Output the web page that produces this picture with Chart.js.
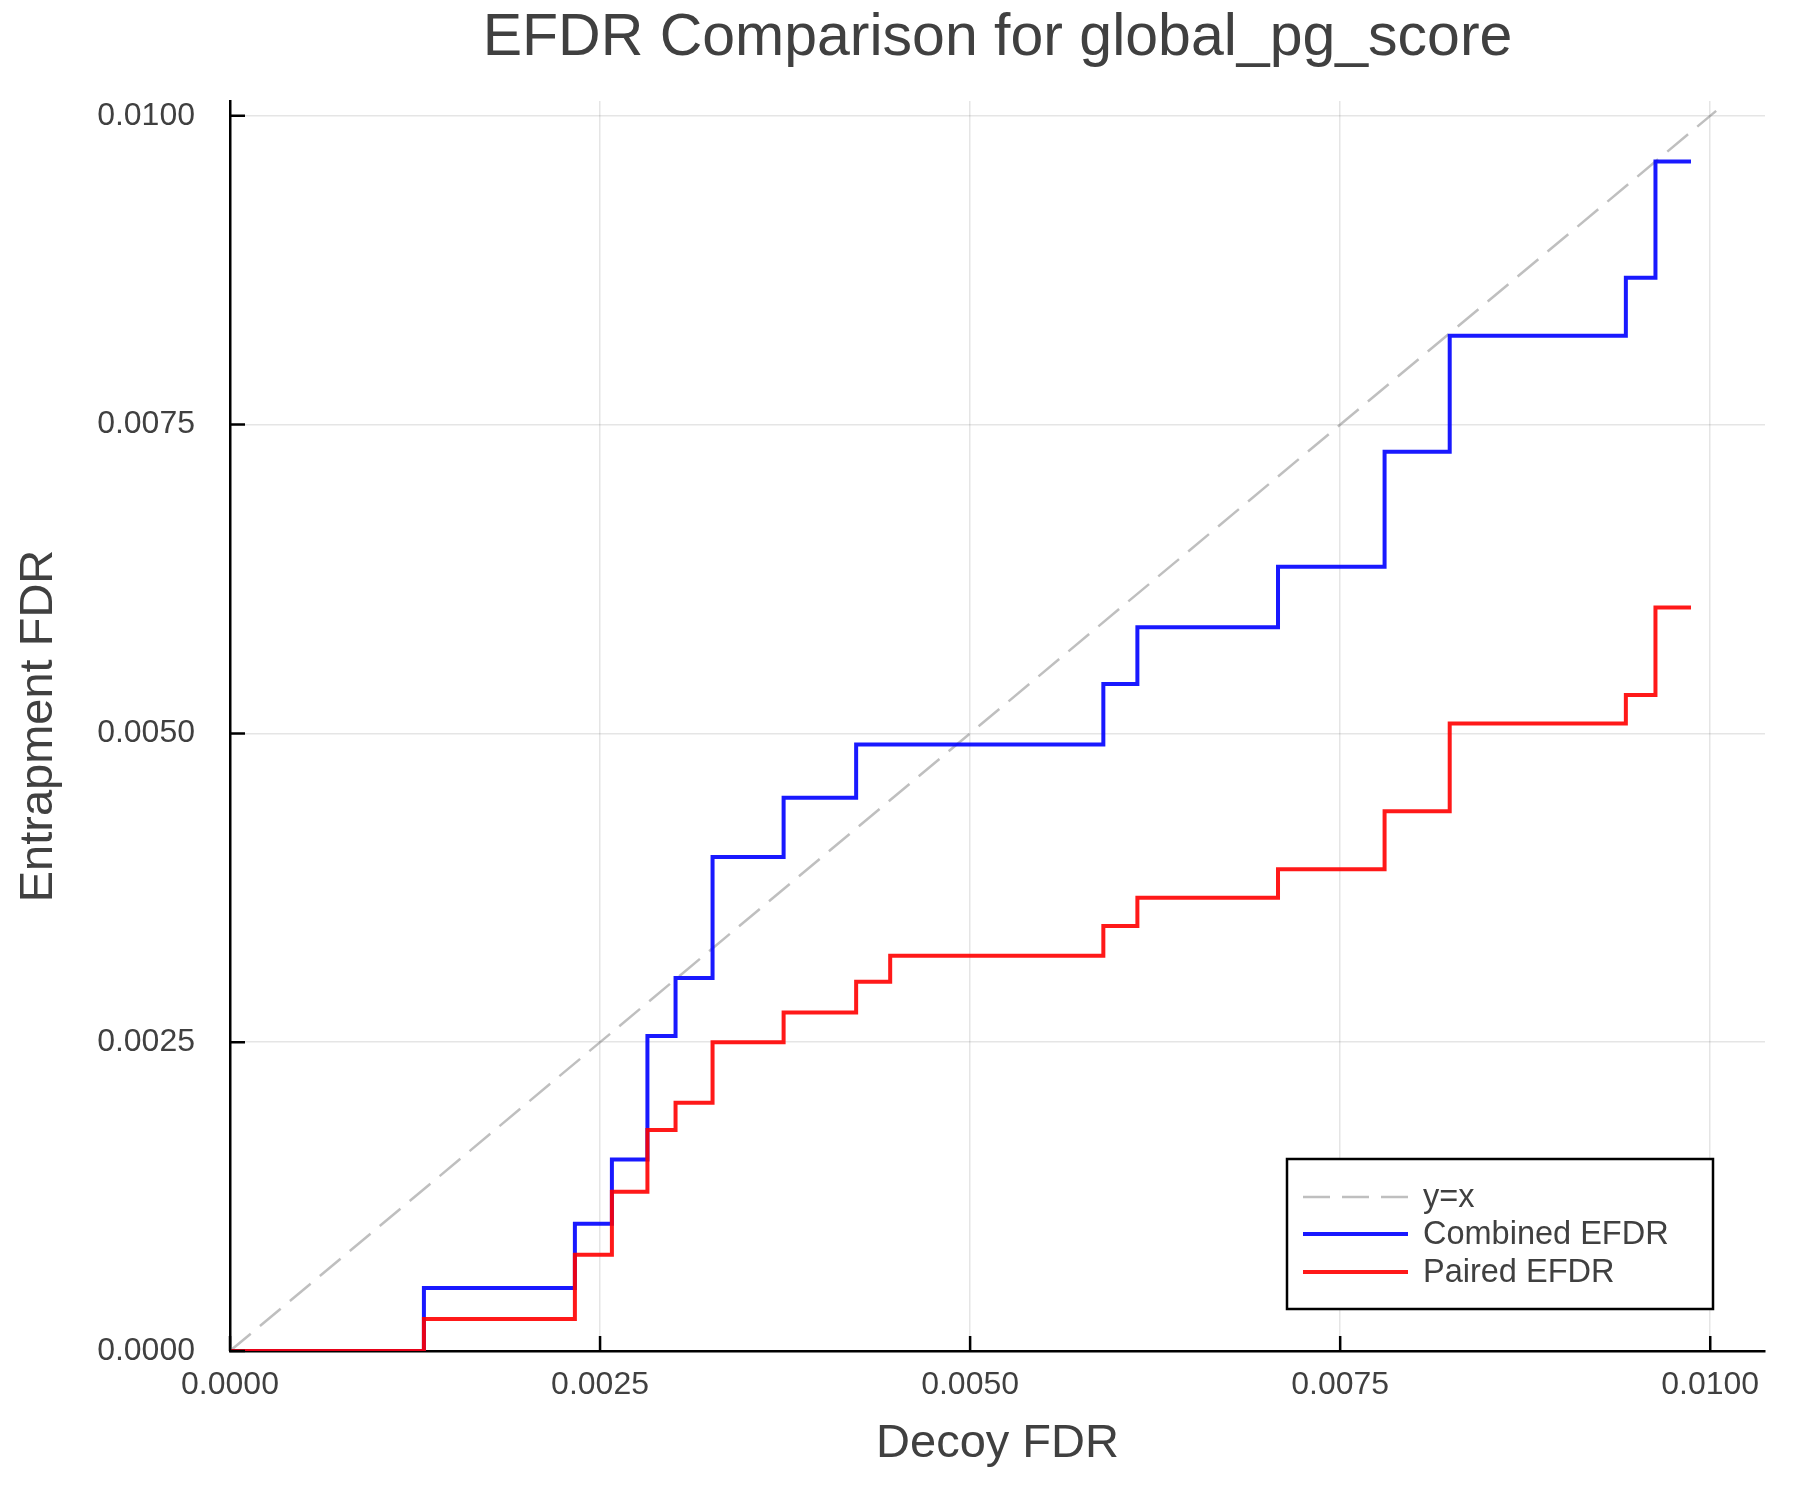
<!DOCTYPE html>
<html>
<head>
<meta charset="utf-8">
<script src="https://cdn.jsdelivr.net/npm/chart.js@4/dist/chart.umd.min.js"></script>
<style>
  html, body { margin: 0; padding: 0; background: #ffffff; }
  #wrap { width: 1800px; height: 1500px; }
</style>
</head>
<body>
<div id="wrap"><canvas id="c" width="1800" height="1500"></canvas></div>
<script>
// ---- data ----
const titleText = "EFDR Comparison for global_pg_score";
const xLabel = "Decoy FDR";
const yLabel = "Entrapment FDR";

const decoyFdr = [0, 0.00131, 0.00233, 0.00258, 0.00282, 0.00301, 0.00326, 0.00374, 0.00423, 0.00446, 0.00590, 0.00613, 0.00708, 0.00780, 0.00824, 0.00943, 0.00963, 0.00987];
const combinedEfdr = [0, 0.00051, 0.00103, 0.00155, 0.00255, 0.00302, 0.00400, 0.00448, 0.00491, 0.00491, 0.00540, 0.00586, 0.00635, 0.00728, 0.00822, 0.00869, 0.00963, 0.00963];
const pairedEfdr = [0, 0.00026, 0.00078, 0.00129, 0.00179, 0.00201, 0.00250, 0.00274, 0.00299, 0.00320, 0.00344, 0.00367, 0.00390, 0.00437, 0.00508, 0.00531, 0.00602, 0.00602];

const identityX = [0, 0.01004];
const identityY = [0, 0.01004];

const xTicks = [0, 0.0025, 0.005, 0.0075, 0.01];
const yTicks = [0, 0.0025, 0.005, 0.0075, 0.01];
const xRange = [0, 0.01037];
const yRange = [0, 0.01012];

const seriesLabels = ["y=x", "Combined EFDR", "Paired EFDR"];

// ---- chart ----
const FONT = "'Liberation Sans', Arial, Helvetica, sans-serif";
const TEXT = "#404040";

const toPts = (xs, ys) => xs.map((x, i) => ({ x: x, y: ys[i] }));

const titlePlugin = {
  id: 'plotTitle',
  afterDraw(chart) {
    const { ctx, chartArea } = chart;
    ctx.save();
    ctx.font = "59px " + FONT;
    ctx.fillStyle = TEXT;
    ctx.textAlign = 'center';
    ctx.textBaseline = 'alphabetic';
    ctx.fillText(titleText, (chartArea.left + chartArea.right) / 2, 55);
    ctx.restore();
  }
};

const innerTicks = {
  id: 'innerTicks',
  afterDraw(chart) {
    const { ctx, chartArea, scales } = chart;
    ctx.save();
    ctx.strokeStyle = '#000000';
    ctx.lineWidth = 2.5;
    ctx.beginPath();
    scales.y.ticks.forEach(t => {
      const py = scales.y.getPixelForValue(t.value);
      ctx.moveTo(chartArea.left, py);
      ctx.lineTo(chartArea.left + 15, py);
    });
    scales.x.ticks.forEach(t => {
      const px = scales.x.getPixelForValue(t.value);
      ctx.moveTo(px, chartArea.bottom);
      ctx.lineTo(px, chartArea.bottom - 15);
    });
    ctx.stroke();
    ctx.restore();
  }
};

const boxLegend = {
  id: 'boxLegend',
  afterDraw(chart) {
    const { ctx, chartArea } = chart;
    const w = 426, h = 150;
    const right = chartArea.right - 52, bottom = chartArea.bottom - 42;
    const left = right - w, top = bottom - h;
    ctx.save();
    ctx.fillStyle = '#ffffff';
    ctx.fillRect(left, top, w, h);
    ctx.strokeStyle = '#000000';
    ctx.lineWidth = 2.5;
    ctx.strokeRect(left, top, w, h);
    const rows = [38, 75, 113];
    const dsByLabel = {};
    chart.data.datasets.forEach(d => { dsByLabel[d.label] = d; });
    seriesLabels.forEach((lab, i) => {
      const d = dsByLabel[lab];
      const y = top + rows[i];
      ctx.beginPath();
      ctx.strokeStyle = d.borderColor;
      ctx.lineWidth = d.borderWidth;
      ctx.setLineDash(d.borderDash || []);
      ctx.moveTo(left + 16, y);
      ctx.lineTo(left + 121, y);
      ctx.stroke();
      ctx.setLineDash([]);
      ctx.fillStyle = TEXT;
      ctx.font = "32.5px " + FONT;
      ctx.textAlign = 'left';
      ctx.textBaseline = 'middle';
      ctx.fillText(lab, left + 136, y + 1);
    });
    ctx.restore();
  }
};

new Chart(document.getElementById('c'), {
  type: 'line',
  data: {
    datasets: [
      {
        label: seriesLabels[0],
        data: toPts(identityX, identityY),
        borderColor: 'rgba(128,128,128,0.5)',
        borderWidth: 2.5,
        borderDash: [27, 12],
        pointRadius: 0,
        order: 3
      },
      {
        label: seriesLabels[1],
        data: toPts(decoyFdr, combinedEfdr),
        borderColor: 'rgba(0,0,255,0.9)',
        borderWidth: 4,
        stepped: 'before',
        pointRadius: 0,
        order: 2
      },
      {
        label: seriesLabels[2],
        data: toPts(decoyFdr, pairedEfdr),
        borderColor: 'rgba(255,0,0,0.9)',
        borderWidth: 4,
        stepped: 'before',
        pointRadius: 0,
        order: 1
      }
    ]
  },
  options: {
    responsive: false,
    animation: false,
    devicePixelRatio: 1,
    layout: { padding: { left: 0, right: 35, top: 101, bottom: 0 } },
    plugins: {
      legend: { display: false },
      title: { display: false },
      tooltip: { enabled: false }
    },
    scales: {
      x: {
        type: 'linear',
        min: xRange[0],
        max: xRange[1],
        afterBuildTicks: s => { s.ticks = xTicks.map(v => ({ value: v })); },
        afterFit: s => { s.height = 149; },
        ticks: {
          padding: 15,
          color: TEXT,
          font: { family: FONT, size: 32 },
          maxRotation: 0,
          callback: v => Number(v).toFixed(4)
        },
        grid: { color: 'rgba(0,0,0,0.1)', lineWidth: 1.5, drawTicks: false },
        border: { color: '#000000', width: 2.5 },
        title: {
          display: true,
          text: xLabel,
          color: TEXT,
          font: { family: FONT, size: 47, lineHeight: 1.2 },
          padding: { top: 0, bottom: 28 }
        }
      },
      y: {
        type: 'linear',
        min: yRange[0],
        max: yRange[1],
        afterBuildTicks: s => { s.ticks = yTicks.map(v => ({ value: v })); },
        afterFit: s => { s.width = 230; },
        ticks: {
          padding: 35,
          color: TEXT,
          font: { family: FONT, size: 32 },
          callback: v => Number(v).toFixed(4)
        },
        grid: { color: 'rgba(0,0,0,0.1)', lineWidth: 1.5, drawTicks: false },
        border: { color: '#000000', width: 2.5 },
        title: {
          display: true,
          text: yLabel,
          color: TEXT,
          font: { family: FONT, size: 47, lineHeight: 1.2 },
          padding: { top: 11, bottom: 0 }
        }
      }
    }
  },
  plugins: [titlePlugin, innerTicks, boxLegend]
});
</script>
</body>
</html>
